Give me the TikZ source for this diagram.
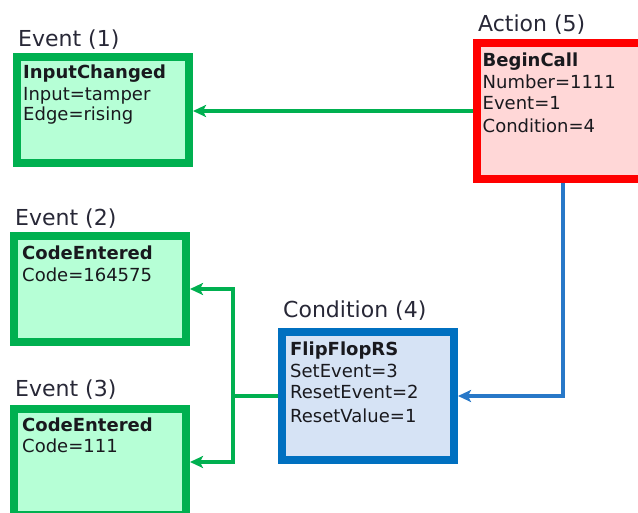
\documentclass[tikz,border=0pt]{standalone}
\usepackage{fontspec}
\setmainfont{DejaVu Sans}
\usetikzlibrary{arrows.meta}
\definecolor{gbord}{RGB}{0,176,80}
\definecolor{gfill}{RGB}{182,255,214}
\definecolor{rbord}{RGB}{255,0,0}
\definecolor{rfill}{RGB}{255,215,215}
\definecolor{bbord}{RGB}{0,112,192}
\definecolor{bfill}{RGB}{214,227,245}
\definecolor{bline}{RGB}{40,120,200}
\definecolor{txt}{RGB}{25,25,30}
\definecolor{ttl}{RGB}{40,40,55}
\tikzset{
  boxbase/.style={rectangle, line width=8pt, minimum width=172pt, inner sep=0pt},
  ebox/.style={boxbase, draw=gbord, fill=gfill, minimum height=106pt},
  abox/.style={boxbase, draw=rbord, fill=rfill, minimum height=136pt},
  cbox/.style={boxbase, draw=bbord, fill=bfill, minimum height=128pt},
  ln/.style={anchor=base west, inner sep=0pt, text=txt, font=\fontsize{18}{21}\selectfont},
  hd/.style={ln, font=\fontsize{18}{21}\selectfont\bfseries},
  ttlstyle/.style={anchor=base west, inner sep=0pt, text=ttl, font=\fontsize{22}{26}\selectfont},
  garrow/.style={draw=gbord, line width=3.5pt, -{Stealth[length=13pt,width=12pt,inset=3pt]}},
  gline/.style={draw=gbord, line width=3.5pt},
  barrow/.style={draw=bline, line width=3.5pt, -{Stealth[length=13pt,width=12pt,inset=3pt]}}
}
\begin{document}
\begin{tikzpicture}[x=1pt,y=-1pt]
\useasboundingbox (0,0) rectangle (638,513);
\clip (0,0) rectangle (638,513);
\fill[white] (0,0) rectangle (638,513);
% boxes
\node[ebox] (e1) at (103,110) {};
\node[ebox] (e2) at (100,289) {};
\node[ebox] (e3) at (100,462) {};
\node[abox] (act) at (563,111) {};
\node[cbox] (cond) at (368,396) {};
% titles
\node[ttlstyle] (t1) at (18,46.5) {Event (1)};
\node[ttlstyle] (t2) at (15,226) {Event (2)};
\node[ttlstyle] (t3) at (15,396.5) {Event (3)};
\node[ttlstyle] (t5) at (478,31.5) {Action (5)};
\node[ttlstyle] (t4) at (283,317.5) {Condition (4)};
% Event 1 text
\node[hd] (e1a) at (23,79) {InputChanged};
\node[ln] (e1b) at (23,101) {Input=tamper};
\node[ln] (e1c) at (23,121) {Edge=rising};
% Event 2 text
\node[hd] (e2a) at (22,260) {CodeEntered};
\node[ln] (e2b) at (22,281.5) {Code=164575};
% Event 3 text
\node[hd] (e3a) at (22,431.5) {CodeEntered};
\node[ln] (e3b) at (22,452.5) {Code=111};
% Action text
\node[hd] (aa) at (482.5,66.5) {BeginCall};
\node[ln] (ab) at (482.5,89) {Number=1111};
\node[ln] (ac) at (482.5,110) {Event=1};
\node[ln] (ad) at (482.5,132.5) {Condition=4};
% Condition text
\node[hd] (ca) at (290,355.5) {FlipFlopRS};
\node[ln] (cb) at (290,377.5) {SetEvent=3};
\node[ln] (cc) at (290,398.5) {ResetEvent=2};
\node[ln] (cd) at (290,422.5) {ResetValue=1};
% connectors
\draw[garrow] (act.west) -- (e1.east |- act.west);
\draw[barrow] (act.south) |- (cond.east);
\coordinate (j) at (233,396);
\draw[gline] (cond.west) -- (j);
\draw[garrow] (j) |- (e2.east);
\draw[garrow] (j) |- (e3.east);
\end{tikzpicture}
\end{document}
